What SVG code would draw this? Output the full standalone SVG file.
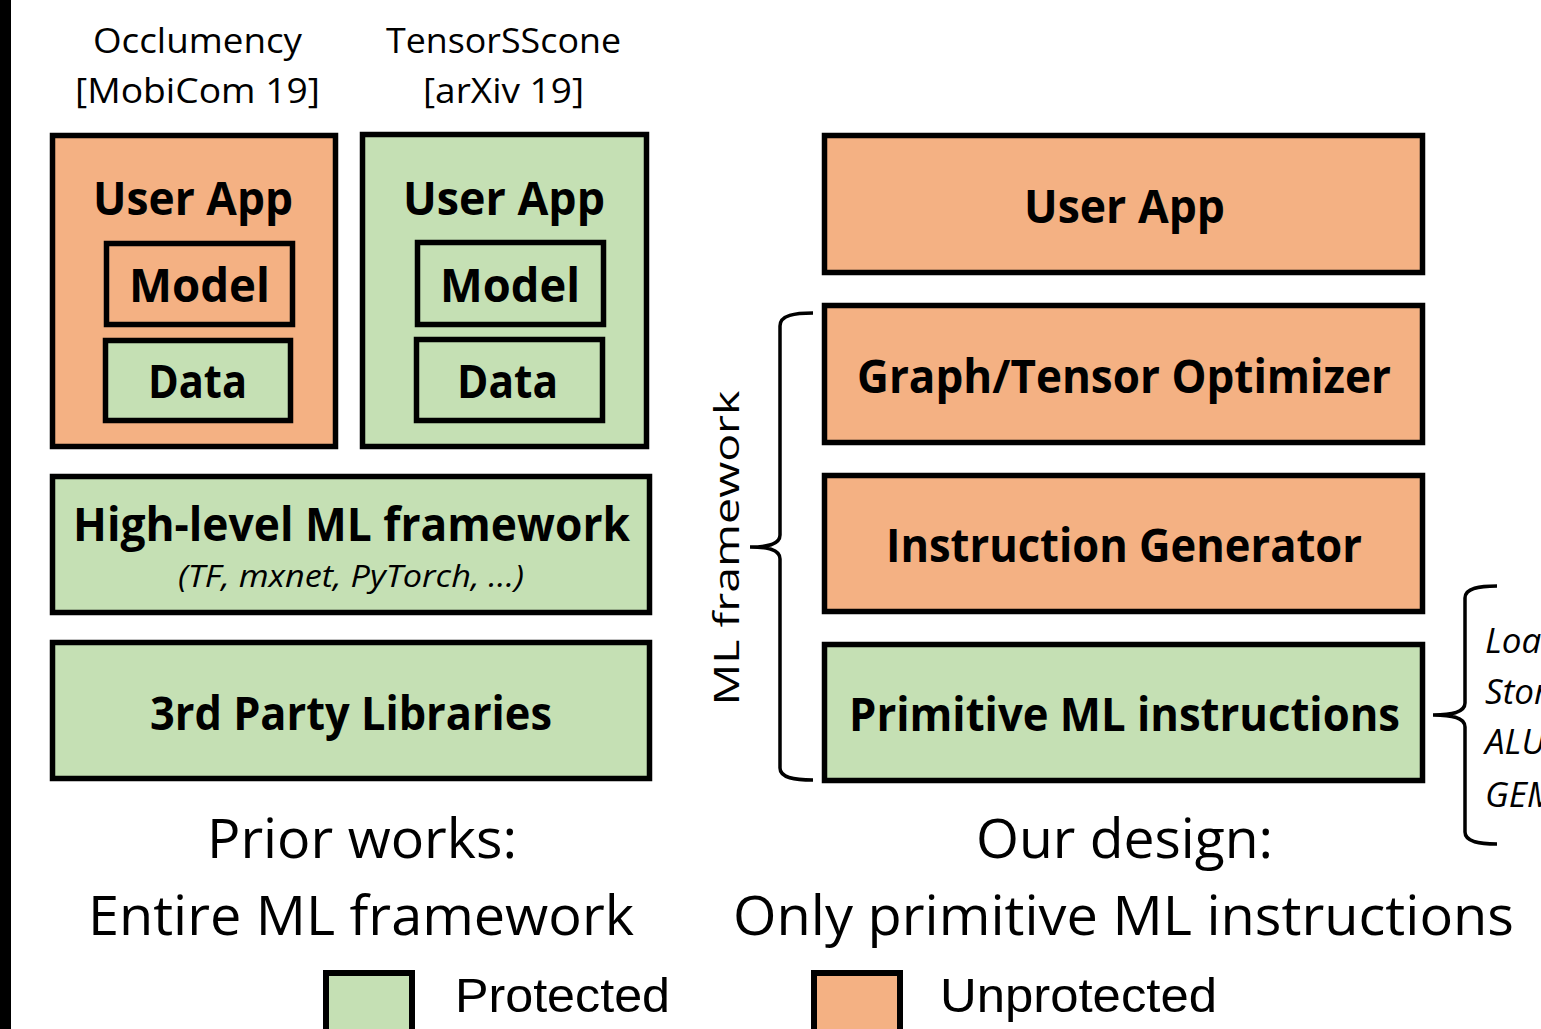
<svg xmlns="http://www.w3.org/2000/svg" width="1541" height="1029" viewBox="0 0 1541 1029">
  <style>
    .prot { fill: #C5E0B4; stroke: #000; stroke-width: 5.5; }
    .unprot { fill: #F4B183; stroke: #000; stroke-width: 5.5; }
    .lbl { font-family: "Open Sans", "Noto Sans", sans-serif; font-weight: 700; font-size: 46px; fill: #000; text-anchor: middle; }
    .cap { font-family: "Open Sans", "Noto Sans", sans-serif; font-size: 35px; fill: #000; text-anchor: middle; }
    .big { font-family: "Open Sans", "Noto Sans", sans-serif; font-size: 55px; fill: #000; text-anchor: middle; }
    .ital { font-family: "Open Sans", "Noto Sans", sans-serif; font-style: italic; fill: #000; }
    .leg { font-family: "Liberation Sans", Arial, sans-serif; font-size: 48px; fill: #000; }
    .brace { fill: none; stroke: #000; stroke-width: 3.5; }
  </style>

  <rect x="0" y="0" width="1541" height="1029" fill="#fff"/>
  <!-- dark strip along the left edge -->
  <rect x="0" y="0" width="11" height="1029" fill="#000"/>

  <!-- column headings -->
  <text class="cap" x="197.5" y="53" textLength="209" lengthAdjust="spacingAndGlyphs">Occlumency</text>
  <text class="cap" x="197.5" y="103" textLength="245" lengthAdjust="spacingAndGlyphs">[MobiCom 19]</text>
  <text class="cap" x="503.5" y="53" textLength="235" lengthAdjust="spacingAndGlyphs">TensorSScone</text>
  <text class="cap" x="503.5" y="103" textLength="161" lengthAdjust="spacingAndGlyphs">[arXiv 19]</text>

  <!-- prior works: Occlumency -->
  <g id="occlumency-app">
    <rect class="unprot" x="52.5" y="135.5" width="283" height="311"/>
    <text class="lbl" x="193" y="215" textLength="200" lengthAdjust="spacingAndGlyphs">User App</text>
  </g>
  <g id="occlumency-model">
    <rect class="unprot" x="106.5" y="243.5" width="186" height="81"/>
    <text class="lbl" x="199.5" y="302" textLength="141" lengthAdjust="spacingAndGlyphs">Model</text>
  </g>
  <g id="occlumency-data">
    <rect class="prot" x="105.5" y="340.5" width="185" height="80"/>
    <text class="lbl" x="197.5" y="398" textLength="99" lengthAdjust="spacingAndGlyphs">Data</text>
  </g>

  <!-- prior works: TensorSScone -->
  <g id="tensorscone-app">
    <rect class="prot" x="362.5" y="134.5" width="284" height="312"/>
    <text class="lbl" x="504" y="215" textLength="202" lengthAdjust="spacingAndGlyphs">User App</text>
  </g>
  <g id="tensorscone-model">
    <rect class="prot" x="417.5" y="242.5" width="186" height="82"/>
    <text class="lbl" x="510" y="302" textLength="140" lengthAdjust="spacingAndGlyphs">Model</text>
  </g>
  <g id="tensorscone-data">
    <rect class="prot" x="416.5" y="339.5" width="186" height="81"/>
    <text class="lbl" x="507.5" y="398" textLength="101" lengthAdjust="spacingAndGlyphs">Data</text>
  </g>

  <g id="highlevel-framework">
    <rect class="prot" x="52.5" y="476.5" width="597" height="136"/>
    <text class="lbl" x="351.5" y="541" textLength="557" lengthAdjust="spacingAndGlyphs">High-level ML framework</text>
    <text class="ital" x="351" y="587" font-size="31" text-anchor="middle" textLength="346" lengthAdjust="spacingAndGlyphs">(TF, mxnet, PyTorch, …)</text>
  </g>
  <g id="third-party-libs">
    <rect class="prot" x="52.5" y="642.5" width="597" height="136"/>
    <text class="lbl" x="351" y="730" textLength="402" lengthAdjust="spacingAndGlyphs">3rd Party Libraries</text>
  </g>

  <!-- our design -->
  <g id="design-app">
    <rect class="unprot" x="824.5" y="135.5" width="598" height="137"/>
    <text class="lbl" x="1124.5" y="223" textLength="201" lengthAdjust="spacingAndGlyphs">User App</text>
  </g>
  <g id="graph-optimizer">
    <rect class="unprot" x="824.5" y="305.5" width="598" height="137"/>
    <text class="lbl" x="1124" y="393" textLength="534" lengthAdjust="spacingAndGlyphs">Graph/Tensor Optimizer</text>
  </g>
  <g id="instruction-generator">
    <rect class="unprot" x="824.5" y="475.5" width="598" height="136"/>
    <text class="lbl" x="1124" y="562" textLength="476" lengthAdjust="spacingAndGlyphs">Instruction Generator</text>
  </g>
  <g id="primitive-instructions">
    <rect class="prot" x="824.5" y="644.5" width="598" height="136"/>
    <text class="lbl" x="1124.5" y="731" textLength="551" lengthAdjust="spacingAndGlyphs">Primitive ML instructions</text>
  </g>

  <!-- braces -->
  <g id="connectors">
    <path class="brace" d="M813,313 C795,313 780,315 780,326 L780,535 C780,545 766,547 750,547 C766,547 780,549 780,559 L780,768 C780,778 795,780 813,780"/>
    <path class="brace" d="M1497,586 C1480,586 1465,588 1465,598 L1465,703 C1465,713 1450,715 1433,715 C1450,715 1465,717 1465,727 L1465,832 C1465,842 1480,844 1497,844"/>
  </g>

  <g id="ml-framework-label">
    <text class="cap" transform="translate(739,548) rotate(-90)" font-size="50" textLength="315" lengthAdjust="spacingAndGlyphs">ML framework</text>
  </g>

  <g id="instruction-list" class="ital" font-size="35">
    <text x="1485" y="653">Load</text>
    <text x="1485" y="704">Store</text>
    <text x="1485" y="754">ALU</text>
    <text x="1485" y="807">GEMM</text>
  </g>

  <!-- captions -->
  <text class="big" x="362" y="858" textLength="310" lengthAdjust="spacingAndGlyphs">Prior works:</text>
  <text class="big" x="361" y="935" textLength="546" lengthAdjust="spacingAndGlyphs">Entire ML framework</text>
  <text class="big" x="1124.5" y="858" textLength="297" lengthAdjust="spacingAndGlyphs">Our design:</text>
  <text class="big" x="1123.5" y="935" textLength="781" lengthAdjust="spacingAndGlyphs">Only primitive ML instructions</text>

  <!-- legend -->
  <g id="legend-protected">
    <rect x="326" y="973" width="86" height="70" fill="#C5E0B4" stroke="#000" stroke-width="6"/>
    <text class="leg" x="455" y="1012" textLength="215" lengthAdjust="spacingAndGlyphs">Protected</text>
  </g>
  <g id="legend-unprotected">
    <rect x="814" y="973" width="86" height="70" fill="#F4B183" stroke="#000" stroke-width="6"/>
    <text class="leg" x="940" y="1012" textLength="277" lengthAdjust="spacingAndGlyphs">Unprotected</text>
  </g>
</svg>
